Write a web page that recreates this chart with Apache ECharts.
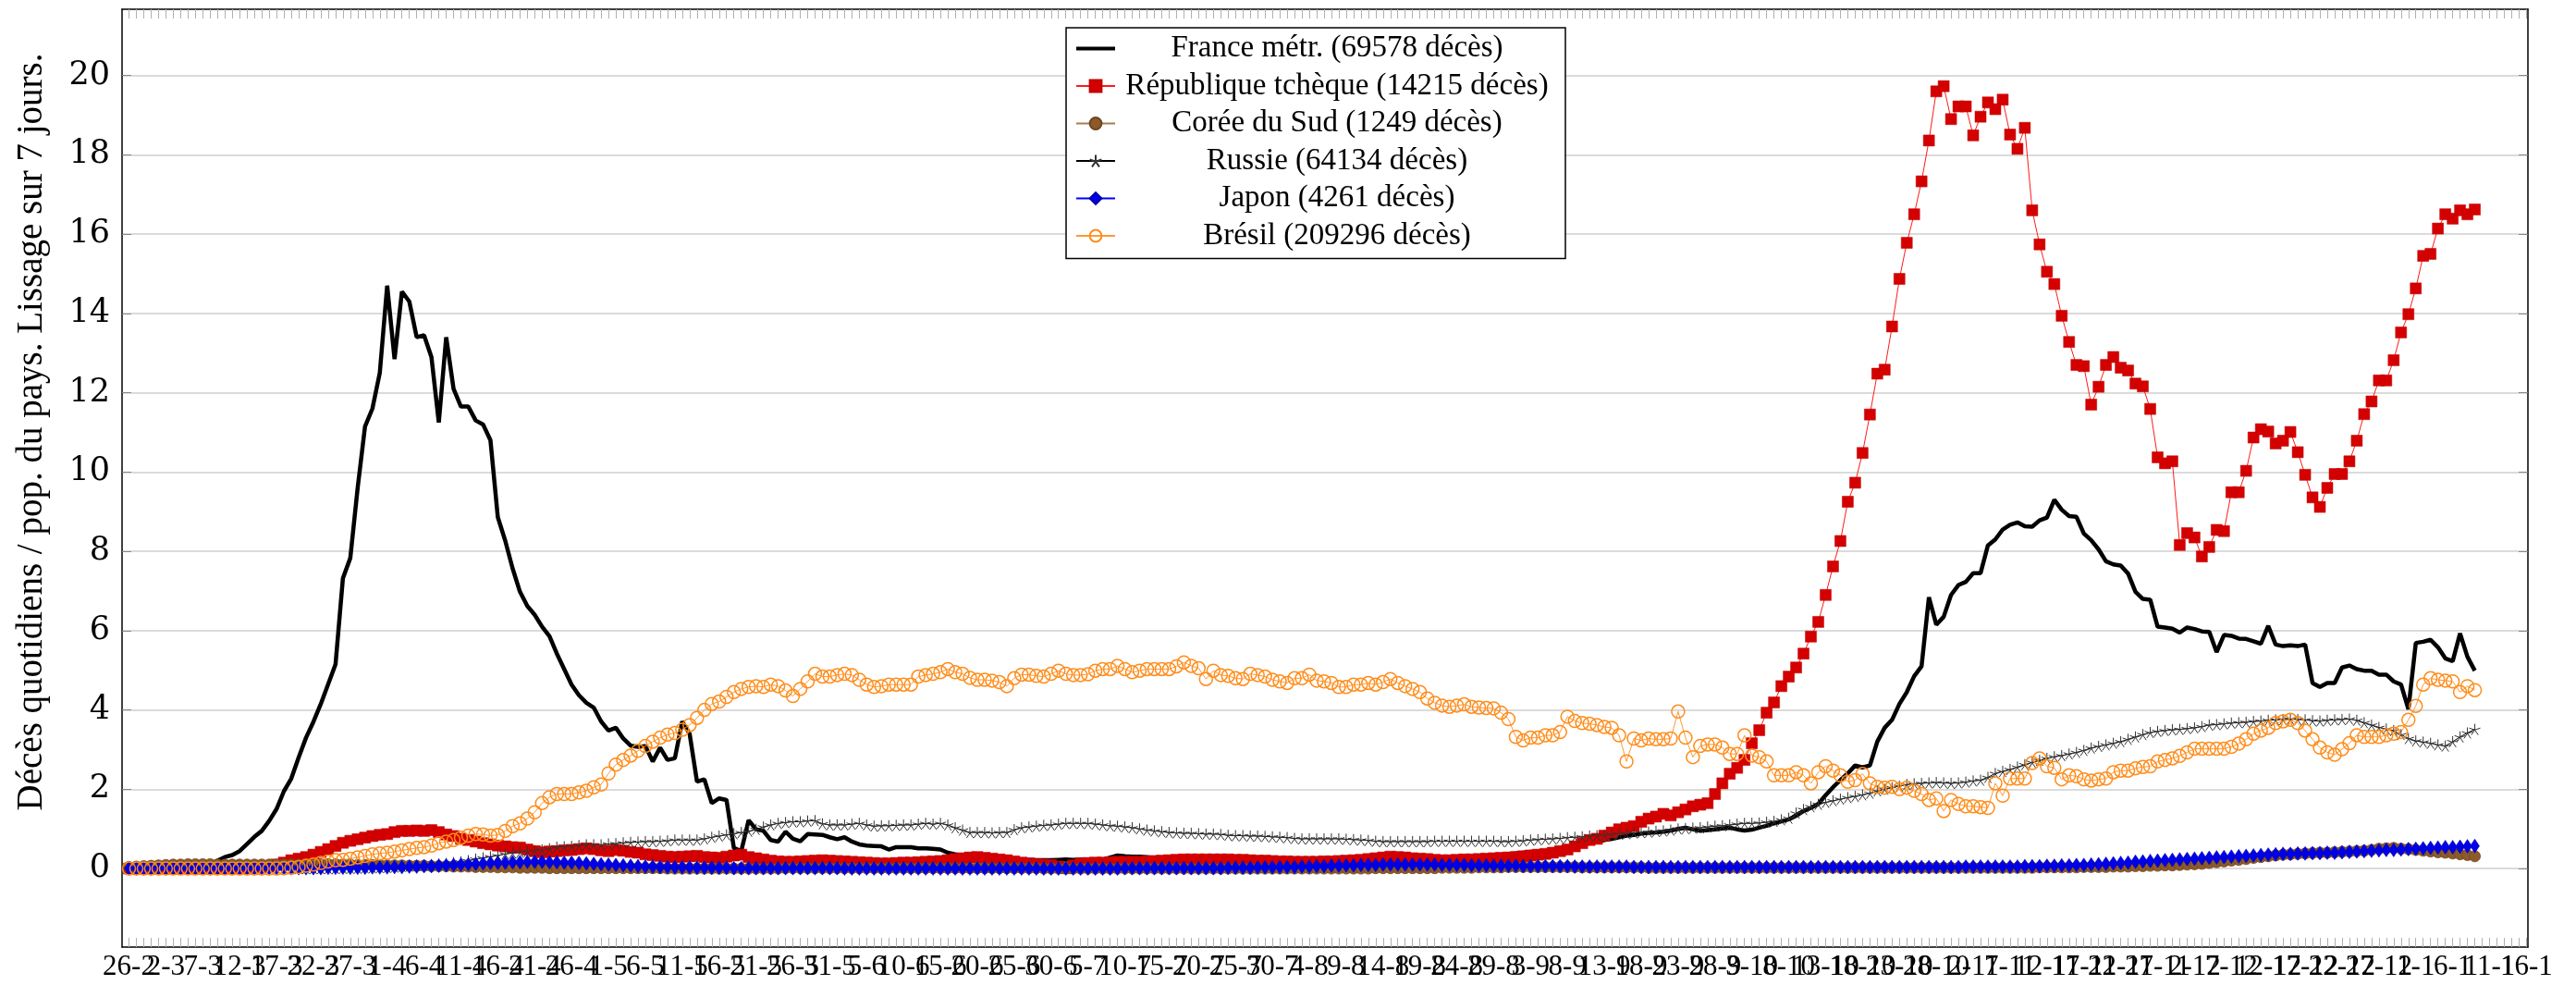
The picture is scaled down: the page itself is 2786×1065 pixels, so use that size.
<!DOCTYPE html>
<html style="height: 100%">
<head>
    <meta charset="utf-8">
</head>
<body style="height: 100%; margin: 0">
<div id="container" style="width: 2786px; height: 1065px"></div>
<script src="https://cdn.jsdelivr.net/npm/echarts@6/dist/echarts.min.js"></script>
<script type="text/javascript">
    // one value per day, day 0 = 26-2 (2020)
    var tickLabels = ['26-2','2-3','7-3','12-3','17-3','22-3','27-3','1-4','6-4','11-4','16-4','21-4','26-4',
        '1-5','6-5','11-5','16-5','21-5','26-5','31-5','5-6','10-6','15-6','20-6','25-6','30-6',
        '5-7','10-7','15-7','20-7','25-7','30-7','4-8','9-8','14-8','19-8','24-8','29-8',
        '3-9','8-9','13-9','18-9','23-9','28-9','3-10','8-10','13-10','18-10','23-10','28-10',
        '2-11','7-11','12-11','17-11','22-11','27-11','2-12','7-12','12-12','17-12','22-12','27-12',
        '1-1','6-1','11-1','16-1'];

    var france = [
        0.00,0.00,0.00,0.01,0.01,0.02,0.02,0.03,0.04,0.05,
        0.07,0.10,0.20,0.29,0.34,0.44,0.62,0.80,0.95,1.20,
        1.50,1.95,2.27,2.80,3.30,3.70,4.15,4.65,5.15,7.32,
        7.83,9.60,11.15,11.60,12.50,14.70,12.85,14.55,14.30,13.40,
        13.45,12.90,11.25,13.40,12.10,11.65,11.65,11.30,11.20,10.80,
        8.86,8.27,7.57,6.98,6.62,6.40,6.10,5.86,5.42,5.03,
        4.64,4.37,4.18,4.06,3.71,3.48,3.55,3.28,3.10,3.07,
        3.09,2.70,3.05,2.74,2.78,3.71,3.40,2.19,2.25,1.65,
        1.77,1.73,0.52,0.44,1.22,0.99,0.95,0.72,0.68,0.93,
        0.75,0.69,0.87,0.86,0.85,0.79,0.74,0.79,0.68,0.61,
        0.58,0.57,0.56,0.48,0.54,0.54,0.54,0.51,0.51,0.50,
        0.48,0.40,0.36,0.33,0.31,0.30,0.29,0.27,0.25,0.23,
        0.23,0.22,0.22,0.21,0.21,0.21,0.22,0.23,0.22,0.23,
        0.22,0.21,0.21,0.28,0.33,0.31,0.30,0.30,0.29,0.26,
        0.22,0.21,0.20,0.20,0.19,0.19,0.20,0.18,0.17,0.17,
        0.18,0.19,0.18,0.17,0.16,0.16,0.17,0.16,0.15,0.15,
        0.16,0.17,0.17,0.16,0.16,0.17,0.18,0.17,0.17,0.18,
        0.19,0.19,0.18,0.19,0.20,0.20,0.21,0.22,0.22,0.23,
        0.24,0.25,0.27,0.29,0.30,0.32,0.34,0.36,0.38,0.40,
        0.42,0.43,0.44,0.47,0.50,0.54,0.58,0.61,0.64,0.68,
        0.72,0.75,0.79,0.83,0.85,0.88,0.90,0.91,0.93,0.96,
        1.00,1.03,0.99,0.95,0.97,0.99,1.01,1.03,0.99,0.96,
        0.98,1.03,1.08,1.14,1.19,1.24,1.33,1.45,1.53,1.63,
        1.85,2.05,2.23,2.40,2.60,2.55,2.60,3.20,3.55,3.75,
        4.15,4.45,4.85,5.10,6.84,6.15,6.35,6.90,7.15,7.23,
        7.45,7.45,8.15,8.30,8.55,8.67,8.73,8.63,8.62,8.78,
        8.85,9.30,9.05,8.89,8.87,8.45,8.28,8.05,7.75,7.67,
        7.64,7.44,6.98,6.80,6.78,6.10,6.08,6.05,5.95,6.08,
        6.04,5.98,5.97,5.46,5.89,5.87,5.80,5.79,5.73,5.67,
        6.12,5.65,5.61,5.63,5.61,5.65,4.68,4.58,4.68,4.68,
        5.07,5.12,5.03,4.99,4.99,4.89,4.89,4.72,4.64,4.02,
        5.69,5.72,5.77,5.58,5.30,5.23,5.93,5.34,4.99
    ];

    var tcheque = [
        0.00,0.00,0.00,0.00,0.00,0.00,0.00,0.00,0.00,0.00,
        0.00,0.00,0.00,0.00,0.00,0.01,0.01,0.02,0.03,0.05,
        0.10,0.15,0.21,0.25,0.29,0.35,0.42,0.49,0.57,0.65,
        0.70,0.74,0.78,0.82,0.85,0.87,0.92,0.95,0.95,0.96,
        0.95,0.97,0.92,0.86,0.82,0.75,0.72,0.68,0.64,0.61,
        0.58,0.56,0.54,0.53,0.48,0.44,0.41,0.43,0.44,0.46,
        0.47,0.49,0.51,0.49,0.46,0.44,0.47,0.45,0.42,0.40,
        0.36,0.34,0.32,0.30,0.29,0.30,0.31,0.32,0.29,0.28,
        0.27,0.30,0.33,0.35,0.29,0.26,0.23,0.20,0.18,0.17,
        0.17,0.18,0.19,0.20,0.21,0.20,0.19,0.18,0.17,0.16,
        0.15,0.14,0.13,0.13,0.14,0.15,0.15,0.16,0.17,0.18,
        0.19,0.21,0.24,0.26,0.28,0.29,0.27,0.25,0.23,0.21,
        0.18,0.15,0.13,0.11,0.10,0.09,0.05,0.01,0.08,0.13,
        0.14,0.15,0.15,0.16,0.17,0.17,0.17,0.17,0.18,0.19,
        0.20,0.21,0.22,0.23,0.23,0.23,0.23,0.23,0.23,0.23,
        0.22,0.22,0.21,0.20,0.20,0.19,0.18,0.18,0.17,0.17,
        0.17,0.17,0.18,0.18,0.19,0.20,0.21,0.22,0.24,0.26,
        0.28,0.30,0.29,0.28,0.26,0.25,0.24,0.22,0.21,0.21,
        0.22,0.23,0.23,0.24,0.25,0.26,0.27,0.28,0.29,0.31,
        0.33,0.35,0.37,0.40,0.44,0.48,0.56,0.64,0.72,0.75,
        0.83,0.91,0.99,1.03,1.07,1.18,1.26,1.31,1.38,1.34,
        1.42,1.49,1.57,1.61,1.65,1.88,2.15,2.39,2.54,2.74,
        3.16,3.49,3.93,4.19,4.60,4.84,5.07,5.42,5.85,6.22,
        6.90,7.62,8.26,9.25,9.73,10.48,11.45,12.48,12.58,13.67,
        14.87,15.78,16.50,17.33,18.36,19.60,19.73,18.90,19.22,19.22,
        18.49,18.96,19.32,19.15,19.39,18.51,18.15,18.68,16.60,15.74,
        15.05,14.74,13.94,13.28,12.70,12.67,11.70,12.15,12.70,12.90,
        12.63,12.56,12.23,12.16,11.59,10.37,10.22,10.27,8.16,8.46,
        8.35,7.87,8.11,8.54,8.51,9.49,9.49,10.03,10.87,11.08,
        11.02,10.72,10.79,11.01,10.50,9.93,9.36,9.12,9.60,9.95,
        9.95,10.27,10.79,11.46,11.78,12.31,12.31,12.82,13.52,13.98,
        14.63,15.45,15.50,16.14,16.50,16.39,16.60,16.50,16.62
    ];

    var coree = [
        0.04,0.05,0.06,0.07,0.08,0.09,0.10,0.10,0.11,0.11,
        0.11,0.11,0.10,0.10,0.10,0.10,0.10,0.10,0.10,0.10,
        0.10,0.10,0.10,0.10,0.10,0.11,0.11,0.11,0.11,0.10,
        0.10,0.09,0.09,0.09,0.09,0.08,0.08,0.08,0.07,0.07,
        0.07,0.06,0.06,0.06,0.05,0.05,0.05,0.04,0.04,0.04,
        0.03,0.03,0.03,0.02,0.02,0.02,0.02,0.01,0.01,0.01,
        0.01,0.01,0.01,0.01,0.01,0.01,0.01,0.01,0.01,0.01,
        0.01,0.01,0.01,0.00,0.00,0.00,0.00,0.00,0.00,0.00,
        0.00,0.00,0.00,0.00,0.00,0.00,0.00,0.00,0.00,0.01,
        0.01,0.01,0.01,0.01,0.01,0.01,0.01,0.01,0.01,0.01,
        0.01,0.01,0.01,0.01,0.01,0.01,0.01,0.01,0.01,0.01,
        0.01,0.01,0.01,0.01,0.01,0.01,0.01,0.01,0.01,0.01,
        0.01,0.01,0.01,0.01,0.00,0.00,0.00,0.00,0.00,0.00,
        0.00,0.00,0.00,0.00,0.00,0.00,0.00,0.00,0.00,0.00,
        0.00,0.00,0.00,0.00,0.00,0.00,0.00,0.00,0.00,0.00,
        0.00,0.00,0.00,0.00,0.00,0.00,0.00,0.00,0.00,0.00,
        0.00,0.00,0.00,0.00,0.00,0.00,0.00,0.00,0.00,0.01,
        0.01,0.01,0.01,0.01,0.01,0.01,0.01,0.01,0.02,0.02,
        0.02,0.02,0.02,0.03,0.03,0.03,0.03,0.04,0.04,0.04,
        0.04,0.04,0.04,0.04,0.04,0.04,0.04,0.03,0.03,0.03,
        0.03,0.03,0.03,0.03,0.03,0.03,0.02,0.02,0.02,0.02,
        0.02,0.02,0.02,0.02,0.02,0.02,0.02,0.02,0.02,0.02,
        0.02,0.02,0.02,0.02,0.02,0.02,0.02,0.02,0.02,0.02,
        0.02,0.02,0.02,0.02,0.02,0.02,0.02,0.02,0.02,0.02,
        0.02,0.02,0.02,0.02,0.02,0.02,0.02,0.02,0.02,0.02,
        0.02,0.02,0.02,0.02,0.02,0.02,0.02,0.02,0.02,0.03,
        0.03,0.03,0.03,0.03,0.03,0.04,0.04,0.04,0.04,0.05,
        0.05,0.05,0.06,0.06,0.07,0.07,0.08,0.08,0.09,0.10,
        0.11,0.12,0.14,0.16,0.18,0.20,0.22,0.24,0.27,0.29,
        0.31,0.33,0.35,0.36,0.37,0.38,0.39,0.40,0.40,0.41,
        0.42,0.43,0.44,0.45,0.47,0.50,0.51,0.52,0.50,0.49,
        0.47,0.45,0.43,0.41,0.40,0.38,0.36,0.34,0.31
    ];

    var russie = [
        0.00,0.00,0.00,0.00,0.00,0.00,0.00,0.00,0.00,0.00,
        0.00,0.00,0.00,0.00,0.00,0.00,0.00,0.00,0.00,0.00,
        0.00,0.00,0.00,0.00,0.00,0.00,0.00,0.00,0.00,0.01,
        0.01,0.01,0.02,0.02,0.03,0.03,0.04,0.05,0.06,0.07,
        0.08,0.10,0.11,0.13,0.15,0.17,0.20,0.24,0.27,0.30,
        0.33,0.37,0.39,0.41,0.43,0.45,0.47,0.50,0.54,0.55,
        0.56,0.58,0.60,0.60,0.60,0.62,0.63,0.65,0.66,0.67,
        0.68,0.68,0.69,0.70,0.72,0.72,0.72,0.72,0.75,0.79,
        0.82,0.85,0.88,0.91,0.94,0.99,1.05,1.10,1.14,1.16,
        1.18,1.18,1.20,1.21,1.13,1.10,1.10,1.10,1.12,1.14,
        1.10,1.07,1.08,1.08,1.09,1.10,1.10,1.12,1.14,1.12,
        1.14,1.10,1.03,0.97,0.91,0.91,0.91,0.90,0.91,0.91,
        0.98,1.03,1.05,1.07,1.09,1.10,1.12,1.14,1.14,1.14,
        1.14,1.12,1.10,1.08,1.07,1.05,1.03,1.00,0.97,0.95,
        0.93,0.91,0.90,0.89,0.89,0.88,0.87,0.87,0.86,0.84,
        0.83,0.83,0.82,0.82,0.81,0.80,0.79,0.78,0.76,0.75,
        0.75,0.75,0.75,0.75,0.75,0.74,0.73,0.72,0.71,0.69,
        0.68,0.68,0.68,0.68,0.68,0.68,0.68,0.69,0.69,0.69,
        0.69,0.69,0.69,0.69,0.69,0.69,0.68,0.68,0.69,0.70,
        0.72,0.73,0.74,0.75,0.76,0.78,0.79,0.80,0.82,0.83,
        0.84,0.86,0.87,0.88,0.90,0.91,0.92,0.94,0.95,0.97,
        1.00,1.01,1.02,1.03,1.05,1.07,1.08,1.10,1.12,1.14,
        1.14,1.15,1.17,1.19,1.23,1.27,1.40,1.49,1.56,1.62,
        1.67,1.71,1.75,1.79,1.82,1.86,1.90,1.96,2.00,2.04,
        2.08,2.12,2.14,2.15,2.16,2.17,2.16,2.15,2.16,2.18,
        2.21,2.23,2.30,2.40,2.45,2.50,2.56,2.62,2.68,2.73,
        2.78,2.82,2.85,2.89,2.93,2.98,3.04,3.08,3.12,3.16,
        3.20,3.26,3.32,3.38,3.43,3.46,3.48,3.50,3.51,3.53,
        3.55,3.58,3.62,3.63,3.65,3.67,3.68,3.69,3.71,3.72,
        3.74,3.75,3.76,3.77,3.76,3.75,3.73,3.72,3.74,3.75,
        3.76,3.77,3.74,3.68,3.62,3.56,3.52,3.48,3.38,3.28,
        3.22,3.19,3.16,3.12,3.09,3.20,3.32,3.42,3.51
    ];

    var japon = [
        0.00,0.00,0.00,0.00,0.01,0.01,0.01,0.01,0.01,0.01,
        0.01,0.01,0.01,0.01,0.01,0.01,0.01,0.01,0.01,0.01,
        0.01,0.01,0.01,0.01,0.01,0.01,0.01,0.02,0.02,0.02,
        0.02,0.02,0.02,0.03,0.03,0.03,0.04,0.04,0.05,0.05,
        0.06,0.06,0.07,0.08,0.09,0.10,0.11,0.12,0.13,0.14,
        0.14,0.15,0.16,0.16,0.17,0.17,0.17,0.16,0.16,0.15,
        0.15,0.14,0.13,0.12,0.11,0.10,0.09,0.08,0.07,0.06,
        0.05,0.05,0.04,0.04,0.03,0.03,0.03,0.02,0.02,0.02,
        0.02,0.02,0.01,0.01,0.01,0.01,0.01,0.01,0.01,0.01,
        0.01,0.01,0.01,0.01,0.01,0.01,0.01,0.00,0.00,0.00,
        0.00,0.00,0.00,0.00,0.00,0.00,0.00,0.00,0.00,0.00,
        0.00,0.00,0.00,0.00,0.00,0.00,0.00,0.00,0.00,0.00,
        0.00,0.00,0.00,0.00,0.00,0.00,0.00,0.00,0.00,0.00,
        0.00,0.00,0.00,0.00,0.00,0.01,0.01,0.01,0.01,0.01,
        0.01,0.01,0.01,0.01,0.01,0.01,0.01,0.01,0.01,0.02,
        0.02,0.02,0.02,0.03,0.03,0.03,0.04,0.04,0.04,0.05,
        0.05,0.06,0.06,0.07,0.07,0.08,0.08,0.09,0.09,0.09,
        0.10,0.10,0.10,0.10,0.10,0.10,0.10,0.10,0.09,0.09,
        0.09,0.09,0.08,0.08,0.08,0.07,0.07,0.07,0.07,0.06,
        0.06,0.06,0.06,0.06,0.06,0.06,0.05,0.05,0.05,0.05,
        0.05,0.05,0.05,0.05,0.04,0.04,0.04,0.04,0.04,0.04,
        0.04,0.04,0.04,0.04,0.04,0.04,0.04,0.04,0.04,0.04,
        0.04,0.04,0.04,0.04,0.04,0.04,0.04,0.04,0.04,0.04,
        0.04,0.04,0.04,0.04,0.04,0.04,0.04,0.04,0.04,0.04,
        0.04,0.04,0.04,0.04,0.04,0.04,0.04,0.04,0.04,0.05,
        0.05,0.05,0.05,0.05,0.05,0.05,0.05,0.06,0.06,0.06,
        0.07,0.07,0.08,0.08,0.09,0.09,0.10,0.11,0.12,0.13,
        0.14,0.15,0.17,0.18,0.19,0.20,0.21,0.22,0.23,0.24,
        0.25,0.26,0.27,0.28,0.29,0.30,0.31,0.32,0.33,0.34,
        0.35,0.36,0.37,0.37,0.38,0.38,0.39,0.39,0.40,0.40,
        0.41,0.42,0.43,0.44,0.45,0.46,0.47,0.47,0.48,0.49,
        0.50,0.51,0.52,0.53,0.54,0.54,0.55,0.56,0.57
    ];

    var bresil = [
        0.00,0.00,0.00,0.00,0.00,0.00,0.00,0.00,0.00,0.00,
        0.00,0.00,0.00,0.00,0.00,0.00,0.00,0.00,0.00,0.00,
        0.00,0.01,0.02,0.04,0.07,0.10,0.14,0.18,0.21,0.22,
        0.25,0.28,0.32,0.36,0.38,0.40,0.43,0.46,0.49,0.52,
        0.54,0.58,0.64,0.68,0.72,0.78,0.83,0.87,0.86,0.83,
        0.85,0.95,1.07,1.14,1.26,1.42,1.65,1.80,1.88,1.88,
        1.88,1.92,1.96,2.05,2.12,2.40,2.62,2.74,2.85,2.97,
        3.09,3.20,3.30,3.38,3.42,3.50,3.62,3.80,4.00,4.15,
        4.21,4.33,4.45,4.53,4.58,4.60,4.58,4.64,4.60,4.49,
        4.35,4.53,4.72,4.91,4.84,4.84,4.88,4.91,4.88,4.76,
        4.64,4.58,4.60,4.64,4.64,4.64,4.64,4.84,4.88,4.91,
        4.95,5.03,4.95,4.91,4.81,4.76,4.76,4.74,4.70,4.60,
        4.80,4.89,4.89,4.86,4.84,4.91,4.99,4.91,4.88,4.88,
        4.90,4.99,5.03,5.03,5.11,5.03,4.95,4.99,5.03,5.03,
        5.03,5.03,5.10,5.20,5.11,5.05,4.78,4.99,4.88,4.86,
        4.80,4.78,4.91,4.88,4.84,4.76,4.72,4.68,4.80,4.80,
        4.89,4.74,4.72,4.68,4.58,4.58,4.64,4.64,4.68,4.64,
        4.70,4.78,4.68,4.60,4.53,4.45,4.29,4.18,4.11,4.08,
        4.11,4.14,4.08,4.06,4.05,4.04,3.93,3.77,3.32,3.23,
        3.30,3.30,3.36,3.36,3.44,3.83,3.72,3.67,3.65,3.62,
        3.57,3.55,3.36,2.70,3.28,3.23,3.28,3.26,3.26,3.28,
        3.96,3.30,2.81,3.09,3.13,3.13,3.05,2.89,2.89,3.36,
        2.85,2.81,2.70,2.35,2.35,2.35,2.43,2.35,2.15,2.43,
        2.58,2.47,2.35,2.19,2.23,2.39,2.15,2.06,2.04,2.06,
        2.00,2.04,1.96,1.88,1.73,1.77,1.45,1.73,1.63,1.57,
        1.57,1.55,1.53,2.15,1.84,2.27,2.27,2.27,2.66,2.78,
        2.58,2.54,2.25,2.35,2.33,2.25,2.22,2.25,2.27,2.43,
        2.47,2.47,2.53,2.56,2.58,2.70,2.74,2.78,2.84,2.93,
        3.02,3.02,3.02,3.02,3.02,3.07,3.15,3.26,3.40,3.48,
        3.55,3.67,3.71,3.75,3.67,3.48,3.26,3.05,2.93,2.87,
        3.01,3.16,3.36,3.32,3.32,3.32,3.36,3.40,3.44,3.75,
        4.10,4.64,4.80,4.76,4.74,4.72,4.45,4.60,4.50
    ];

    var yTicks = [0, 2, 4, 6, 8, 10, 12, 14, 16, 18, 20];

    var serif = '"Liberation Serif", "DejaVu Serif", serif';
    var starPath = 'path://M0,-10L0,0M0,0L9.51,-3.09M0,0L5.88,8.09M0,0L-5.88,8.09M0,0L-9.51,-3.09';

    function pairs(arr) {
        return arr.map(function (v, i) { return [i, v]; });
    }
    var dayTicks = [];
    for (var d = 0; d <= 325; d++) dayTicks.push(d);
    // empty guard labels at both ends so the min/max label rule never hides a real date
    var labelDays = [-0.9].concat(tickLabels.map(function (t, i) { return i * 5; }), [325.15]);

    var names = ['France métr. (69578 décès)', 'République tchèque (14215 décès)', 'Corée du Sud (1249 décès)',
        'Russie (64134 décès)', 'Japon (4261 décès)', 'Brésil (209296 décès)'];

    var dom = document.getElementById("container");
    var myChart = echarts.init(dom, null, {renderer: 'canvas'});

    var xBase = {
        type: 'value', min: -0.94, max: 325.2,
        axisLine: {show: true, onZero: false, lineStyle: {color: '#000', width: 1.5}},
        splitLine: {show: false}
    };
    var yBase = {
        type: 'value', min: -1.98, max: 21.67,
        axisLine: {show: true, onZero: false, lineStyle: {color: '#000', width: 1.5}}
    };

    var option = {
        animation: false,
        backgroundColor: '#fff',
        grid: {left: 132, right: 52, top: 10, bottom: 41, containLabel: false},
        graphic: [{
            type: 'text', x: 35, y: 467, rotation: Math.PI / 2,
            style: {
                text: 'Décès quotidiens / pop. du pays. Lissage sur 7 jours.',
                font: '39px "Liberation Serif", serif', fill: '#000',
                align: 'center', verticalAlign: 'middle'
            }
        }],
        legend: {
            orient: 'vertical', left: 1153, top: 30,
            padding: [6, 12, 8, 10], itemGap: 7.5, itemWidth: 42, itemHeight: 16,
            backgroundColor: '#fff', borderColor: '#000', borderWidth: 1.5,
            data: [
                {name: names[0], icon: 'path://M0,0L42,0L42,4L0,4Z'},
                names[1], names[2], names[3], names[4], names[5]
            ],
            formatter: function (n) { return '{c|' + n + '}'; },
            textStyle: {
                lineHeight: 30,
                rich: {c: {width: 470, align: 'center', fontSize: 33, lineHeight: 30, fontFamily: serif, color: '#000'}}
            }
        },
        xAxis: [
            echarts.util.merge({
                position: 'bottom',
                axisTick: {customValues: dayTicks, inside: true, length: 10, lineStyle: {color: '#b0b0b0'}},
                axisLabel: {
                    customValues: labelDays, margin: 6, fontSize: 31, fontFamily: serif, color: '#000',
                    hideOverlap: false,
                    formatter: function (v) {
                        return (v >= 0 && v % 5 === 0) ? tickLabels[v / 5] : '';
                    }
                }
            }, xBase, true),
            echarts.util.merge({
                position: 'top',
                axisTick: {customValues: dayTicks, inside: true, length: 10, lineStyle: {color: '#b0b0b0'}},
                axisLabel: {show: false}
            }, xBase, true)
        ],
        yAxis: [
            echarts.util.merge({
                position: 'left',
                axisTick: {customValues: yTicks, inside: true, length: 10, lineStyle: {color: '#888'}},
                axisLabel: {customValues: yTicks, margin: 13, fontSize: 35, fontFamily: '"DejaVu Serif", serif', color: '#000'},
                splitLine: {show: true, lineStyle: {color: '#cfcfcf', width: 1.5}}
            }, yBase, true),
            echarts.util.merge({
                position: 'right',
                axisTick: {customValues: yTicks, inside: true, length: 10, lineStyle: {color: '#888'}},
                axisLabel: {show: false},
                splitLine: {show: false}
            }, yBase, true)
        ],
        series: [
            {
                name: names[0], type: 'line', data: pairs(france), symbol: 'none',
                lineStyle: {color: '#000', width: 4.5}, itemStyle: {color: '#000'}
            },
            {
                name: names[1], type: 'line', data: pairs(tcheque), symbol: 'rect', symbolSize: 12,
                lineStyle: {color: '#ff1a1a', width: 1},
                itemStyle: {color: '#d40000', borderColor: '#c00000', borderWidth: 0.5}
            },
            {
                name: names[2], type: 'line', data: pairs(coree), symbol: 'circle', symbolSize: 12,
                lineStyle: {color: '#a87c50', width: 1},
                itemStyle: {color: '#8c5a2b', borderColor: '#6e4620', borderWidth: 0.8}
            },
            {
                name: names[3], type: 'line', data: pairs(russie), symbol: starPath, symbolSize: 12,
                lineStyle: {color: '#000', width: 1},
                itemStyle: {color: 'rgba(0,0,0,0)', borderColor: '#333', borderWidth: 1}
            },
            {
                name: names[4], type: 'line', data: pairs(japon), symbol: 'diamond', symbolSize: [10, 15],
                lineStyle: {color: '#0000ff', width: 1},
                itemStyle: {color: '#0000e6', borderColor: '#0000b0', borderWidth: 0.5}
            },
            {
                name: names[5], type: 'line', data: pairs(bresil), symbol: 'circle', symbolSize: 14,
                lineStyle: {color: '#ff9933', width: 1},
                itemStyle: {color: 'rgba(255,255,255,0)', borderColor: '#ff8c1a', borderWidth: 1.5}
            }
        ]
    };

    if (option && typeof option === "object") {
        myChart.setOption(option, true);
    }
</script>
</body>
</html>
